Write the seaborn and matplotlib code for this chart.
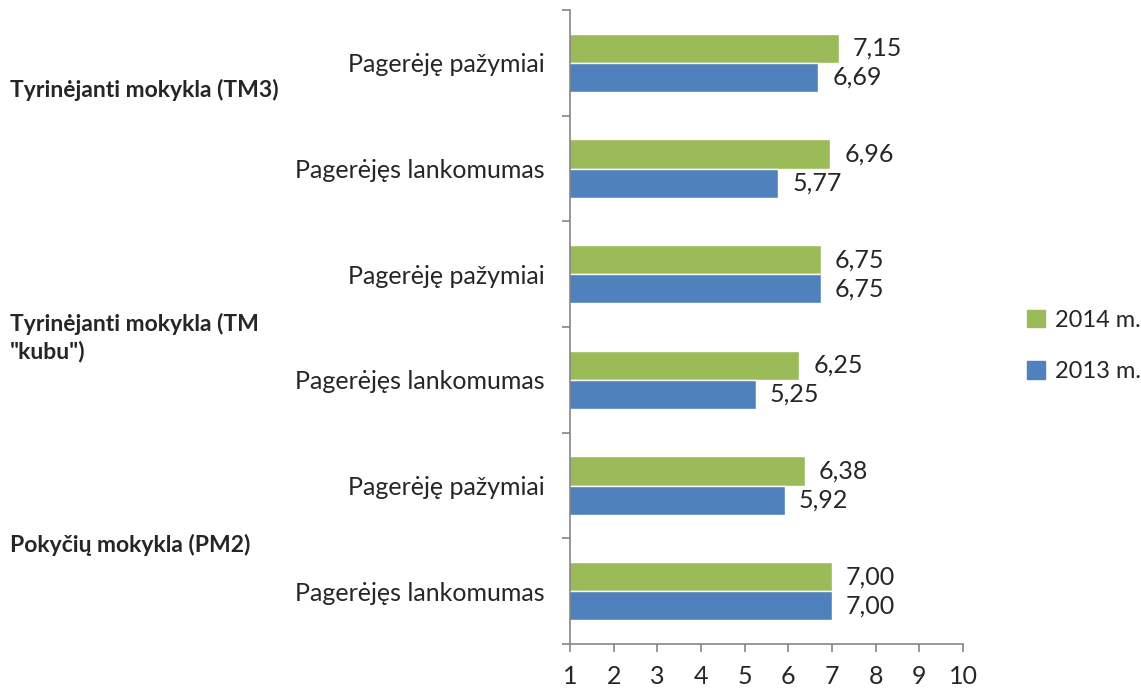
import matplotlib.pyplot as plt
import matplotlib.transforms as mtransforms
from matplotlib.patches import Patch
import seaborn as sns
import pandas as pd

groups = ["Tyrinėjanti mokykla (TM3)", "Tyrinėjanti mokykla (TM\n\"kubu\")", "Pokyčių mokykla (PM2)"]
items = ["Pagerėję pažymiai", "Pagerėjęs lankomumas"]
years = ["2014 m.", "2013 m."]
values_2014 = [7.15, 6.96, 6.75, 6.25, 6.38, 7.00]
values_2013 = [6.69, 5.77, 6.75, 5.25, 5.92, 7.00]
colors = {"2014 m.": "#9bbb59", "2013 m.": "#4f81bd"}

rows = [f"{g}|{i}" for g in groups for i in items]
row_labels = [i for g in groups for i in items]

df = pd.DataFrame({
    "row": rows * 2,
    "value": values_2014 + values_2013,
    "year": [years[0]] * len(rows) + [years[1]] * len(rows),
})

sns.set_theme(style="white")
plt.rcParams["font.family"] = ["Lato", "DejaVu Sans"]

fig = plt.figure(figsize=(11.41, 6.92), dpi=100)
ax = fig.add_axes([570 / 1141, 1 - 644 / 692, (963 - 570) / 1141, (644 - 10) / 692])

sns.barplot(data=df, y="row", x="value", hue="year", hue_order=years, order=rows,
            palette=colors, width=0.55, saturation=1, ax=ax, legend=False)

for cont in ax.containers:
    labels = [f"{b.get_width():.2f}".replace(".", ",") for b in cont]
    ax.bar_label(cont, labels=labels, padding=10, fontsize=18)

ax.set_xlim(1, 10)
ax.set_ylim(len(rows) - 0.5, -0.5)
ax.set_xticks(range(1, 11))
ax.set_yticks(range(len(rows)))
ax.set_yticklabels(row_labels)
ax.set_yticks([r - 0.5 for r in range(len(rows) + 1)], minor=True)
ax.tick_params(axis="y", which="major", length=0, pad=18, labelsize=18)
ax.tick_params(axis="y", which="minor", length=6, color="#868686", width=1.2, left=True)
ax.tick_params(axis="x", length=6, color="#868686", width=1.2, bottom=True, labelsize=18, pad=9)
ax.set_xlabel("")
ax.set_ylabel("")
for s in ["top", "right"]:
    ax.spines[s].set_visible(False)
for s in ["left", "bottom"]:
    ax.spines[s].set_color("#868686")
    ax.spines[s].set_linewidth(1.2)

trans = mtransforms.blended_transform_factory(fig.transFigure, ax.transData)
for g, y in zip(groups, [0.26, 2.6, 4.56]):
    ax.text(10 / 1141, y, g, transform=trans, ha="left", va="center",
            fontsize=16.5, fontweight="bold", linespacing=1.35)

handles = [Patch(color=colors[y]) for y in years]
fig.legend(handles, years, loc="center left", bbox_to_anchor=(1027 / 1141, 1 - 346 / 692),
           frameon=False, fontsize=17, handlelength=0.75, handleheight=0.75,
           labelspacing=1.3, handletextpad=0.45, borderpad=0, borderaxespad=0)

fig.savefig("out.png", dpi=100)
